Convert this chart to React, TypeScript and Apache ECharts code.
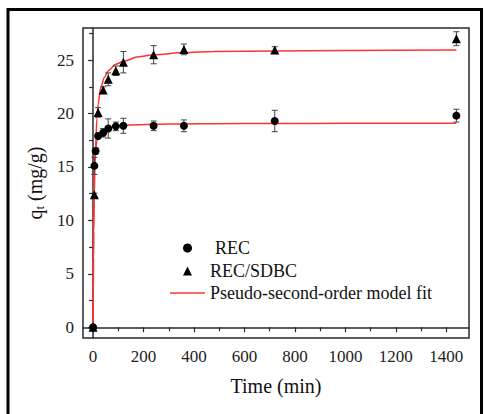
import React, { useEffect, useRef } from "react";
import * as echarts from "echarts";

// ---- data ----
const tRec = [0, 5, 10, 20, 40, 60, 90, 120, 240, 360, 720, 1440];
const qRec = [0, 15.1, 16.5, 17.9, 18.2, 18.6, 18.8, 18.85, 18.85, 18.85, 19.3, 19.8];
const eRec = [0, 0.8, 0.3, 0.2, 0.4, 0.9, 0.4, 0.7, 0.45, 0.55, 1.0, 0.6];

const tSdbc = [0, 5, 20, 40, 60, 90, 120, 240, 360, 720, 1440];
const qSdbc = [0, 12.4, 20.1, 22.2, 23.2, 24.0, 24.8, 25.5, 26.0, 25.95, 27.0];
const eSdbc = [0, 0.15, 0.45, 0.3, 0.6, 0.45, 1.0, 0.85, 0.5, 0.3, 0.65];

const tFitRec = [0, 1, 2, 3, 4, 5, 7, 10, 15, 20, 30, 45, 60, 90, 120, 180, 240, 360, 480, 720, 1000, 1440];
const qFitRec = [0, 8.5, 11.8, 13.5, 14.5, 15.1, 15.9, 16.7, 17.4, 17.8, 18.2, 18.5, 18.65, 18.8, 18.9, 18.95, 19.0, 19.03, 19.05, 19.07, 19.08, 19.1];

const tFitSdbc = [0, 1, 2, 3, 5, 7, 10, 15, 20, 30, 45, 60, 90, 120, 180, 240, 360, 480, 720, 1000, 1440];
const qFitSdbc = [0, 3.5, 6.5, 9, 12.6, 14.8, 17.0, 19.5, 20.9, 22.4, 23.4, 24.0, 24.6, 24.9, 25.3, 25.5, 25.7, 25.8, 25.85, 25.9, 25.95];

const xMajor = [0, 200, 400, 600, 800, 1000, 1200, 1400];
const xMinor = [100, 300, 500, 700, 900, 1100, 1300];
const yMajor = [0, 5, 10, 15, 20, 25];
const yMinor = [2.5, 7.5, 12.5, 17.5, 22.5, 27.5];

const NAME_REC = "REC";
const NAME_SDBC = "REC/SDBC";
const NAME_FIT = "Pseudo-second-order model fit";

const FONT = "Liberation Serif";
const AXIS_COLOR = "#2a2a2a";
const RED = "#ff3333";

function zip(a: number[], b: number[]) {
  return a.map((v, i) => [v, b[i]]);
}
function errData(t: number[], q: number[], e: number[]) {
  return t.map((v, i) => [v, q[i] - e[i], q[i] + e[i]]);
}

const errRender = (params: any, api: any) => {
  const x = api.value(0);
  const lo = api.coord([x, api.value(1)]);
  const hi = api.coord([x, api.value(2)]);
  const w = 3;
  const style = { stroke: "#444", lineWidth: 1 };
  return {
    type: "group",
    children: [
      { type: "line", shape: { x1: lo[0], y1: lo[1], x2: hi[0], y2: hi[1] }, style },
      { type: "line", shape: { x1: lo[0] - w, y1: lo[1], x2: lo[0] + w, y2: lo[1] }, style },
      { type: "line", shape: { x1: hi[0] - w, y1: hi[1], x2: hi[0] + w, y2: hi[1] }, style },
    ],
  };
};

const tickRich = { s: { fontFamily: FONT, fontSize: 17, color: "#222" } };
const labelFmt = (v: number) => "{s|" + String(v) + "}";

export default function App() {
  const ref = useRef<HTMLDivElement>(null);
  useEffect(() => {
    if (!ref.current) return;
    const chart = echarts.init(ref.current, undefined, { renderer: "svg" });
    const axisCommon = {
      type: "value",
      splitLine: { show: false },
    };
    const legendRich = {
      s: { fontFamily: FONT, fontSize: 18, color: "#111", lineHeight: 18, padding: [0, 0, 0, 13] },
      r: { fontFamily: FONT, fontSize: 18, color: "#111", lineHeight: 18, padding: [0, 0, 0, 18] },
      f: { fontFamily: FONT, fontSize: 18, color: "#111", lineHeight: 18 },
    };
    chart.setOption({
      animation: false,
      backgroundColor: "#fff",
      textStyle: { fontFamily: FONT },
      graphic: [
        {
          type: "rect",
          shape: { x: 8, y: 9.5, width: 473.5, height: 430 },
          style: { fill: "none", stroke: "#000", lineWidth: 3 },
          silent: true,
        },
      ],
      grid: {
        left: 83,
        right: 15,
        top: 28,
        bottom: 76,
        show: true,
        borderColor: AXIS_COLOR,
        borderWidth: 1.5,
        backgroundColor: "transparent",
      },
      legend: [
        {
          orient: "vertical",
          left: 183,
          top: 239,
          padding: 0,
          itemWidth: 9,
          itemHeight: 9,
          itemGap: 5,
          data: [
            { name: NAME_REC, icon: "circle" },
            { name: NAME_SDBC, icon: "triangle" },
          ],
          formatter: (n: string) => (n === NAME_REC ? "{r|" + n + "}" : "{s|" + n + "}"),
          textStyle: { fontFamily: FONT, fontSize: 18, color: "#111", rich: legendRich },
        },
        {
          orient: "vertical",
          left: 170,
          top: 284,
          padding: 0,
          itemWidth: 35,
          itemHeight: 1.5,
          data: [{ name: NAME_FIT, icon: "rect" }],
          formatter: (n: string) => "{f|" + n + "}",
          textStyle: { fontFamily: FONT, fontSize: 18, color: "#111", rich: legendRich },
        },
      ],
      xAxis: [
        {
          ...axisCommon,
          min: -40,
          max: 1490,
          name: "Time (min)",
          nameLocation: "middle",
          nameGap: 38,
          nameTextStyle: { fontFamily: FONT, fontSize: 20, color: "#111" },
          axisLine: { show: true, lineStyle: { color: AXIS_COLOR, width: 1.5 } },
          axisTick: {
            show: true,
            length: 5,
            customValues: xMajor,
            lineStyle: { color: AXIS_COLOR, width: 1.2 },
          },
          axisLabel: {
            customValues: xMajor,
            formatter: labelFmt,
            rich: tickRich,
            margin: 10,
            fontFamily: FONT,
            fontSize: 17,
            color: "#222",
          },
        },
        {
          ...axisCommon,
          min: -40,
          max: 1490,
          position: "bottom",
          axisLine: { show: false },
          axisTick: {
            show: true,
            length: 4,
            customValues: xMinor,
            lineStyle: { color: AXIS_COLOR, width: 1.2 },
          },
          axisLabel: { show: false },
        },
      ],
      yAxis: [
        {
          ...axisCommon,
          min: -1,
          max: 28,
          name: "{a|q}{b|t}{a| (mg/g)}",
          nameLocation: "middle",
          nameGap: 36,
          nameTextStyle: {
            fontFamily: FONT,
            color: "#111",
            rich: {
              a: { fontFamily: FONT, fontSize: 20, color: "#111", lineHeight: 24 },
              b: { fontFamily: FONT, fontSize: 13, color: "#111", padding: [8, 0, 0, 0] },
            },
          },
          axisLine: { show: true, lineStyle: { color: AXIS_COLOR, width: 1.5 } },
          axisTick: {
            show: true,
            length: 5,
            customValues: yMajor,
            lineStyle: { color: AXIS_COLOR, width: 1.2 },
          },
          axisLabel: {
            customValues: yMajor,
            formatter: labelFmt,
            rich: tickRich,
            margin: 9,
            fontFamily: FONT,
            fontSize: 17,
            color: "#222",
          },
        },
        {
          ...axisCommon,
          min: -1,
          max: 28,
          position: "left",
          axisLine: { show: false },
          axisTick: {
            show: true,
            length: 4,
            customValues: yMinor,
            lineStyle: { color: AXIS_COLOR, width: 1.2 },
          },
          axisLabel: { show: false },
        },
      ],
      series: [
        {
          name: NAME_FIT,
          type: "line",
          data: zip(tFitRec, qFitRec),
          symbol: "none",
          smooth: 0.3,
          smoothMonotone: "x",
          lineStyle: { color: RED, width: 1.5 },
          itemStyle: { color: RED },
          z: 2,
        },
        {
          name: NAME_FIT,
          type: "line",
          data: zip(tFitSdbc, qFitSdbc),
          symbol: "none",
          smooth: 0.3,
          smoothMonotone: "x",
          lineStyle: { color: RED, width: 1.5 },
          itemStyle: { color: RED },
          z: 2,
        },
        {
          type: "custom",
          name: "errRec",
          data: errData(tRec, qRec, eRec),
          renderItem: errRender,
          encode: { x: 0, y: [1, 2] },
          z: 3,
          silent: true,
        },
        {
          type: "custom",
          name: "errSdbc",
          data: errData(tSdbc, qSdbc, eSdbc),
          renderItem: errRender,
          encode: { x: 0, y: [1, 2] },
          z: 3,
          silent: true,
        },
        {
          name: NAME_REC,
          type: "scatter",
          data: zip(tRec, qRec),
          symbol: "circle",
          symbolSize: 8,
          itemStyle: { color: "#000", opacity: 1 },
          z: 4,
        },
        {
          name: NAME_SDBC,
          type: "scatter",
          data: zip(tSdbc, qSdbc),
          symbol: "triangle",
          symbolSize: 9,
          itemStyle: { color: "#000", opacity: 1 },
          z: 4,
        },
      ],
    });
    return () => chart.dispose();
  }, []);
  return (
    <div style={{ position: "fixed", left: 0, top: 0, width: 484, height: 414, background: "#fff" }}>
      <div ref={ref} style={{ width: 484, height: 414 }} />
    </div>
  );
}
